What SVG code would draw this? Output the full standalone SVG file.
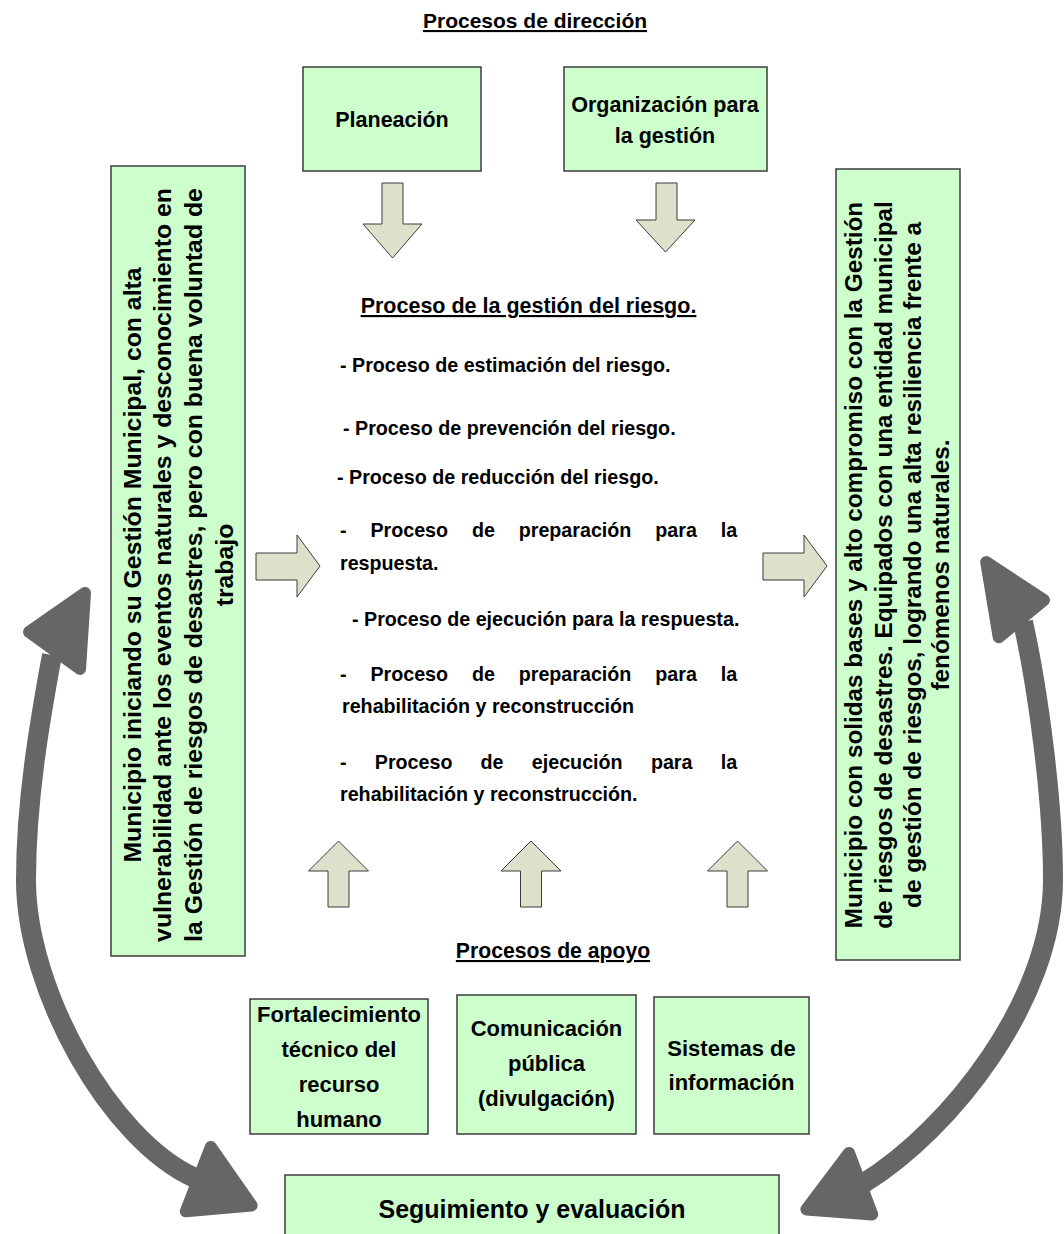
<svg xmlns="http://www.w3.org/2000/svg" width="1064" height="1234" viewBox="0 0 1064 1234">
<style>
.box{fill:#ccffcc;stroke:#3c3c3c;stroke-width:1.5}
.blk{fill:#dde0cb;stroke:#3c3c3c;stroke-width:1}
.t{font-family:"Liberation Sans",Arial,sans-serif;font-weight:bold;fill:#000}
.c{text-anchor:middle}
.u{text-decoration:underline}
.li{font-size:19.7px}
.bx{font-size:22px}
.pre{white-space:pre}
.shaft{fill:none;stroke:#666666;stroke-width:20}
.head{fill:#666666;stroke:#666666;stroke-width:12;stroke-linejoin:round}
</style>
<rect width="1064" height="1234" fill="#ffffff"/>

<g id="connectors">
  <polygon class="blk" points="382,183 403,183 403,224 422,224 392.5,258 363,224 382,224"/>
  <polygon class="blk" points="656,183 677,183 677,220 695,220 665.5,252 636,220 656,220"/>
  <polygon class="blk" points="256,553 297,553 297,535 320,566 297,597 297,580 256,580"/>
  <polygon class="blk" points="763,553 804,553 804,535 827,566 804,597 804,580 763,580"/>
  <polygon class="blk" points="328,907 349,907 349,871 368.5,871 338.5,841 308.5,871 328,871"/>
  <polygon class="blk" points="520.5,907 541.5,907 541.5,871 561,871 531,841 501,871 520.5,871"/>
  <polygon class="blk" points="727,907 748,907 748,871 767.5,871 737.5,841 707.5,871 727,871"/>
  <path class="shaft" d="M52,655 C40,720 26,800 26,880 C26,990 110,1140 195,1178"/>
  <polygon class="head" points="85,593 29,632 80,669"/>
  <polygon class="head" points="251.6,1205.4 210.8,1147 185.8,1211.3"/>
  <path class="shaft" d="M1023,622 C1038,690 1053,800 1053,880 C1053,1000 950,1130 864,1183"/>
  <polygon class="head" points="986.2,562.1 1044,600 998.7,637.3"/>
  <polygon class="head" points="806.4,1209.4 849,1152.9 872.2,1214.4"/>
</g>

<g id="titulo-direccion">
  <text class="t c u" x="535" y="28" font-size="21px">Procesos de dirección</text>
</g>

<g id="planeacion">
  <rect class="box" x="303" y="67" width="178" height="104"/>
  <text class="t c" x="392" y="127" font-size="21.5px">Planeación</text>
</g>

<g id="organizacion">
  <rect class="box" x="564" y="67" width="203" height="104"/>
  <text class="t c" x="665" y="112" font-size="21.5px">Organización para</text>
  <text class="t c" x="665" y="143" font-size="21.5px">la gestión</text>
</g>

<g id="municipio-inicial">
  <rect class="box" x="111" y="166" width="134" height="790"/>
  <g class="t c pre" font-size="24.8px">
    <text transform="translate(141,565) rotate(-90)">Municipio iniciando su Gestión Municipal, con alta</text>
    <text transform="translate(171,565) rotate(-90)">vulnerabilidad ante los eventos naturales y desconocimiento en</text>
    <text transform="translate(202,565) rotate(-90)">la Gestión de riesgos de desastres, pero con buena  voluntad de</text>
    <text transform="translate(233,565) rotate(-90)">trabajo</text>
  </g>
</g>

<g id="municipio-final">
  <rect class="box" x="836" y="169" width="124" height="791"/>
  <g class="t c pre" font-size="24.3px">
    <text transform="translate(862,565) rotate(-90)">Municipio  con solidas bases y alto compromiso con la Gestión</text>
    <text transform="translate(892,565) rotate(-90)">de riesgos de desastres. Equipados con una entidad municipal</text>
    <text transform="translate(921,565) rotate(-90)">de gestión de riesgos, logrando una alta resiliencia frente a</text>
    <text transform="translate(949,565) rotate(-90)">fenómenos naturales.</text>
  </g>
</g>

<g id="proceso-gestion-riesgo">
  <text class="t c u" x="528.5" y="313" font-size="21.5px">Proceso de la gestión del riesgo.</text>
  <text class="t li" x="340" y="372">- Proceso de estimación del riesgo.</text>
  <text class="t li" x="343" y="435">- Proceso de prevención del riesgo.</text>
  <text class="t li" x="337" y="484">- Proceso de reducción del riesgo.</text>
  <text class="t li" y="537"><tspan x="340">-</tspan><tspan x="370.4">Proceso</tspan><tspan x="471.9">de</tspan><tspan x="518.7">preparación</tspan><tspan x="655.3">para</tspan><tspan x="720.7">la</tspan></text>
  <text class="t li" x="340" y="570">respuesta.</text>
  <text class="t li" x="352" y="626">- Proceso de ejecución para la respuesta.</text>
  <text class="t li" y="681"><tspan x="340">-</tspan><tspan x="370.4">Proceso</tspan><tspan x="471.9">de</tspan><tspan x="518.7">preparación</tspan><tspan x="655.3">para</tspan><tspan x="720.7">la</tspan></text>
  <text class="t li" x="342" y="713">rehabilitación y reconstrucción</text>
  <text class="t li" y="769"><tspan x="340">-</tspan><tspan x="374.8">Proceso</tspan><tspan x="480.6">de</tspan><tspan x="531.8">ejecución</tspan><tspan x="650.9">para</tspan><tspan x="720.7">la</tspan></text>
  <text class="t li" x="340" y="801">rehabilitación y reconstrucción.</text>
</g>

<g id="titulo-apoyo">
  <text class="t c u" x="553" y="958" font-size="21.2px">Procesos de apoyo</text>
</g>

<g id="fortalecimiento">
  <rect class="box" x="250" y="999" width="178" height="135"/>
  <g class="t c bx">
    <text x="339" y="1022">Fortalecimiento</text>
    <text x="339" y="1057">técnico del</text>
    <text x="339" y="1092">recurso</text>
    <text x="339" y="1127">humano</text>
  </g>
</g>

<g id="comunicacion">
  <rect class="box" x="457" y="995" width="179" height="139"/>
  <g class="t c bx">
    <text x="546.5" y="1036">Comunicación</text>
    <text x="546.5" y="1071">pública</text>
    <text x="546.5" y="1106">(divulgación)</text>
  </g>
</g>

<g id="sistemas">
  <rect class="box" x="654" y="997" width="155" height="137"/>
  <g class="t c bx">
    <text x="731.5" y="1056">Sistemas de</text>
    <text x="731.5" y="1090">información</text>
  </g>
</g>

<g id="seguimiento">
  <rect class="box" x="285" y="1175" width="494" height="70"/>
  <text class="t c" x="532" y="1218" font-size="25px">Seguimiento y evaluación</text>
</g>
</svg>
